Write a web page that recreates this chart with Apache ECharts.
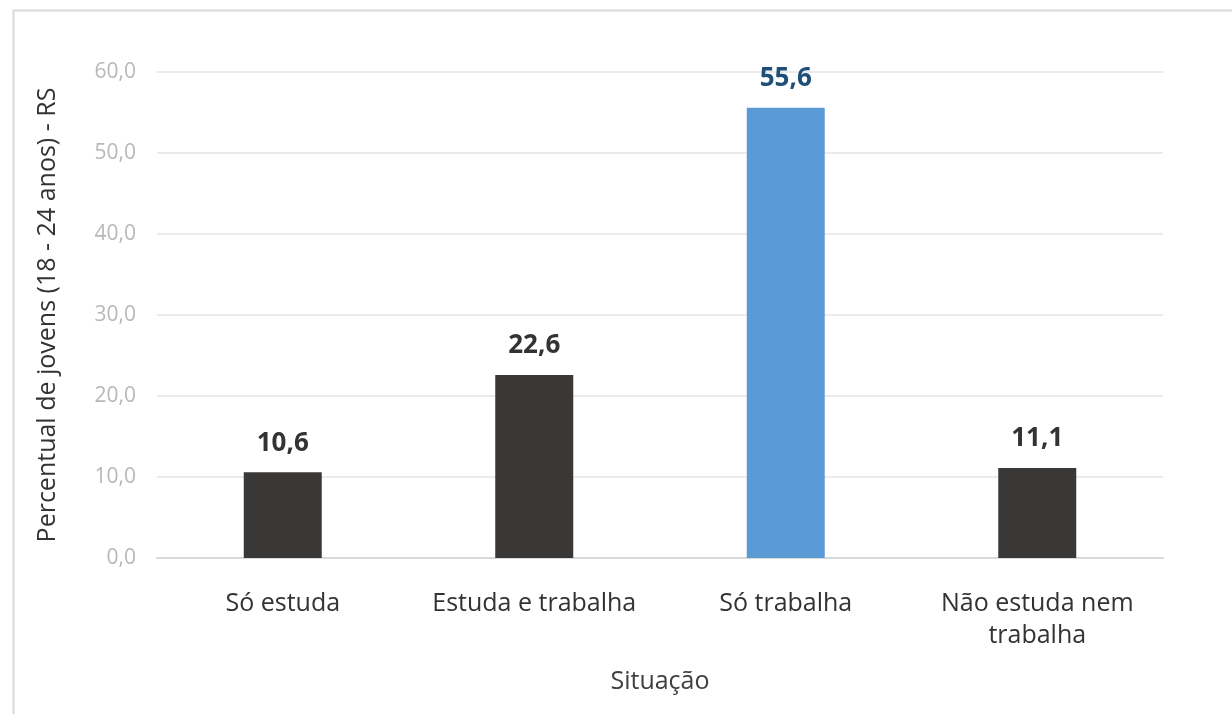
<!DOCTYPE html>
<html>
<head>
<meta charset="utf-8">
<script src="https://cdn.jsdelivr.net/npm/echarts@6/dist/echarts.min.js"></script>
<style>html,body{margin:0;padding:0;background:#fff;}#c{width:1232px;height:714px;}</style>
</head>
<body>
<div id="c"></div>
<script>
const categories = ['Só estuda', 'Estuda e trabalha', 'Só trabalha', 'Não estuda nem\ntrabalha'];
const values = [10.6, 22.6, 55.6, 11.1];
const highlightIndex = 2;
const yTicks = [0, 10, 20, 30, 40, 50, 60];

const FONT = '"Open Sans", "Noto Sans", sans-serif';
const chart = echarts.init(document.getElementById('c'), null, {renderer: 'canvas'});
chart.setOption({
  animation: false,
  backgroundColor: '#fff',
  graphic: [{
    type: 'rect', left: 11, top: 8, shape: {width: 1300, height: 800},
    style: {fill: 'none', stroke: '#d9d9d9', lineWidth: 2}, silent: true
  }],
  grid: {left: 157, right: 69, top: 72, bottom: 156},
  xAxis: {
    type: 'category',
    data: categories,
    name: 'Situação',
    nameLocation: 'middle',
    nameGap: 111,
    nameTextStyle: {color: '#404040', fontSize: 25, fontFamily: FONT},
    axisLine: {lineStyle: {color: '#d9d9d9', width: 2}},
    axisTick: {show: false},
    axisLabel: {color: '#333333', fontSize: 25, fontFamily: FONT, margin: 30, lineHeight: 32,
                interval: 0, hideOverlap: false}
  },
  yAxis: {
    type: 'value',
    min: yTicks[0], max: yTicks[yTicks.length - 1], interval: 10,
    name: 'Percentual de jovens (18 - 24 anos) - RS',
    nameLocation: 'middle',
    nameGap: 97,
    nameTextStyle: {color: '#333333', fontSize: 25, fontFamily: FONT},
    axisLine: {show: false},
    axisTick: {show: false},
    splitLine: {lineStyle: {color: '#ebebeb', width: 2}},
    axisLabel: {
      color: '#b8b8b8', fontSize: 21, fontFamily: FONT, margin: 21,
      formatter: v => v.toFixed(1).replace('.', ',')
    }
  },
  series: [{
    type: 'bar',
    barWidth: 78,
    data: values.map((v, i) => ({
      value: v,
      itemStyle: {color: i === highlightIndex ? '#5b9bd5' : '#3a3836'},
      label: {color: i === highlightIndex ? '#1f4e79' : '#333333'}
    })),
    label: {
      show: true, position: 'top', distance: 16,
      fontSize: 26, fontWeight: 'bold', fontFamily: FONT,
      formatter: p => p.value.toFixed(1).replace('.', ',')
    }
  }]
});
</script>
</body>
</html>
